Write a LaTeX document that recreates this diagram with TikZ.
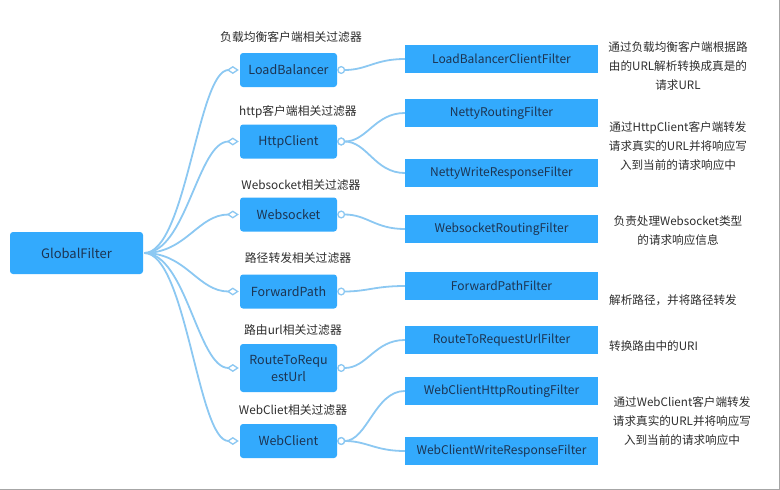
\documentclass[tikz,border=0pt]{standalone}
\usepackage{fontspec}
\setmainfont{Noto Sans CJK SC}
\usetikzlibrary{arrows.meta}
\definecolor{boxblue}{RGB}{51,170,253}
\definecolor{boxtext}{RGB}{28,52,82}
\definecolor{labeltext}{RGB}{45,45,45}
\definecolor{linkblue}{RGB}{140,200,242}
\tikzset{
  box/.style={fill=boxblue, text=boxtext, rounded corners=3pt, minimum width=97pt, minimum height=34pt, inner sep=0pt, align=center, font=\fontsize{12.5}{17}\selectfont},
  fbox/.style={fill=boxblue, text=boxtext, minimum width=193pt, minimum height=28pt, inner sep=0pt, font=\fontsize{12}{14}\selectfont},
  lbl/.style={text=labeltext, font=\fontsize{11.8}{14}\selectfont, inner sep=0pt},
  desc/.style={text=labeltext, font=\fontsize{11.6}{19}\selectfont, align=center, inner sep=0pt},
  conn/.style={draw=linkblue, line width=1.8pt},
  dia/.style={-{Diamond[fill=white, length=12pt, width=8pt, line width=1.3pt]}, shorten >=1pt},
  circ/.style={{Circle[fill=white, length=8pt, line width=1.3pt]}-},
}
\begin{document}
\begin{tikzpicture}[x=1pt,y=-1pt]
\useasboundingbox (0,0) rectangle (780,490);
\draw[gray!70, line width=1pt] (0,489.5) -- (779.5,489.5) -- (779.5,0);

% root
\node[box, minimum width=133pt, minimum height=42pt, font=\fontsize{13}{15}\selectfont] (gf) at (76.5,253) {GlobalFilter};

% middle
\node[box] (lb) at (288.5,70) {LoadBalancer};
\node[box] (hc) at (288.5,141.5) {HttpClient};
\node[box] (ws) at (288.5,214.5) {Websocket};
\node[box] (fp) at (288.5,291.5) {ForwardPath};
\node[box, minimum height=48pt] (rr) at (288.5,368) {RouteToRequ\\estUrl};
\node[box] (wc) at (288.5,441) {WebClient};

% labels
\node[lbl] (llb) at (291,37) {负载均衡客户端相关过滤器};
\node[lbl] (lhc) at (298,112) {http客户端相关过滤器};
\node[lbl] (lws) at (301,185) {Websocket相关过滤器};
\node[lbl] (lfp) at (298,258) {路径转发相关过滤器};
\node[lbl] (lrr) at (293,330) {路由url相关过滤器};
\node[lbl] (lwc) at (293,410) {WebCliet相关过滤器};

% right
\node[fbox] (lbc) at (501.5,59) {LoadBalancerClientFilter};
\node[fbox] (nr) at (501.5,113) {NettyRoutingFilter};
\node[fbox] (nw) at (501.5,173) {NettyWriteResponseFilter};
\node[fbox] (wr) at (501.5,229) {WebsocketRoutingFilter};
\node[fbox] (fpf) at (501.5,286) {ForwardPathFilter};
\node[fbox] (rrf) at (501.5,340) {RouteToRequestUrlFilter};
\node[fbox] (wh) at (501.5,391) {WebClientHttpRoutingFilter};
\node[fbox] (ww) at (501.5,451) {WebClientWriteResponseFilter};

% descriptions
\node[desc] (d1) at (678,66) {通过负载均衡客户端根据路\\由的URL解析转换成真是的\\请求URL};
\node[desc] (d2) at (678,146) {通过HttpClient客户端转发\\请求真实的URL并将响应写\\入到当前的请求响应中};
\node[desc] (d3) at (678,230.5) {负责处理Websocket类型\\的请求响应信息};
\node[desc, anchor=west] (d4) at (609,300) {解析路径，并将路径转发};
\node[desc, anchor=west] (d5) at (609,346) {转换路由中的URI};
\node[desc] (d6) at (682,421) {通过WebClient客户端转发\\请求真实的URL并将响应写\\入到当前的请求响应中};

% root connectors
\foreach \t in {lb,hc,ws,fp,rr,wc}{
  \draw[conn, dia] ([xshift=1pt]gf.east) .. controls +(42,0) and +(-42,0) .. (\t.west);
}

% middle to right
\draw[conn, circ] (lb.east) .. controls +(30,0) and +(-30,0) .. (lbc.west);
\draw[conn, circ] (hc.east) .. controls +(30,0) and +(-30,0) .. (nr.west);
\draw[conn, circ] (hc.east) .. controls +(30,0) and +(-30,0) .. (nw.west);
\draw[conn, circ] (ws.east) .. controls +(30,0) and +(-30,0) .. (wr.west);
\draw[conn, circ] (fp.east) .. controls +(30,0) and +(-30,0) .. (fpf.west);
\draw[conn, circ] (rr.east) .. controls +(30,0) and +(-30,0) .. (rrf.west);
\draw[conn, circ] (wc.east) .. controls +(30,0) and +(-30,0) .. (wh.west);
\draw[conn, circ] (wc.east) .. controls +(30,0) and +(-30,0) .. (ww.west);
\end{tikzpicture}
\end{document}
